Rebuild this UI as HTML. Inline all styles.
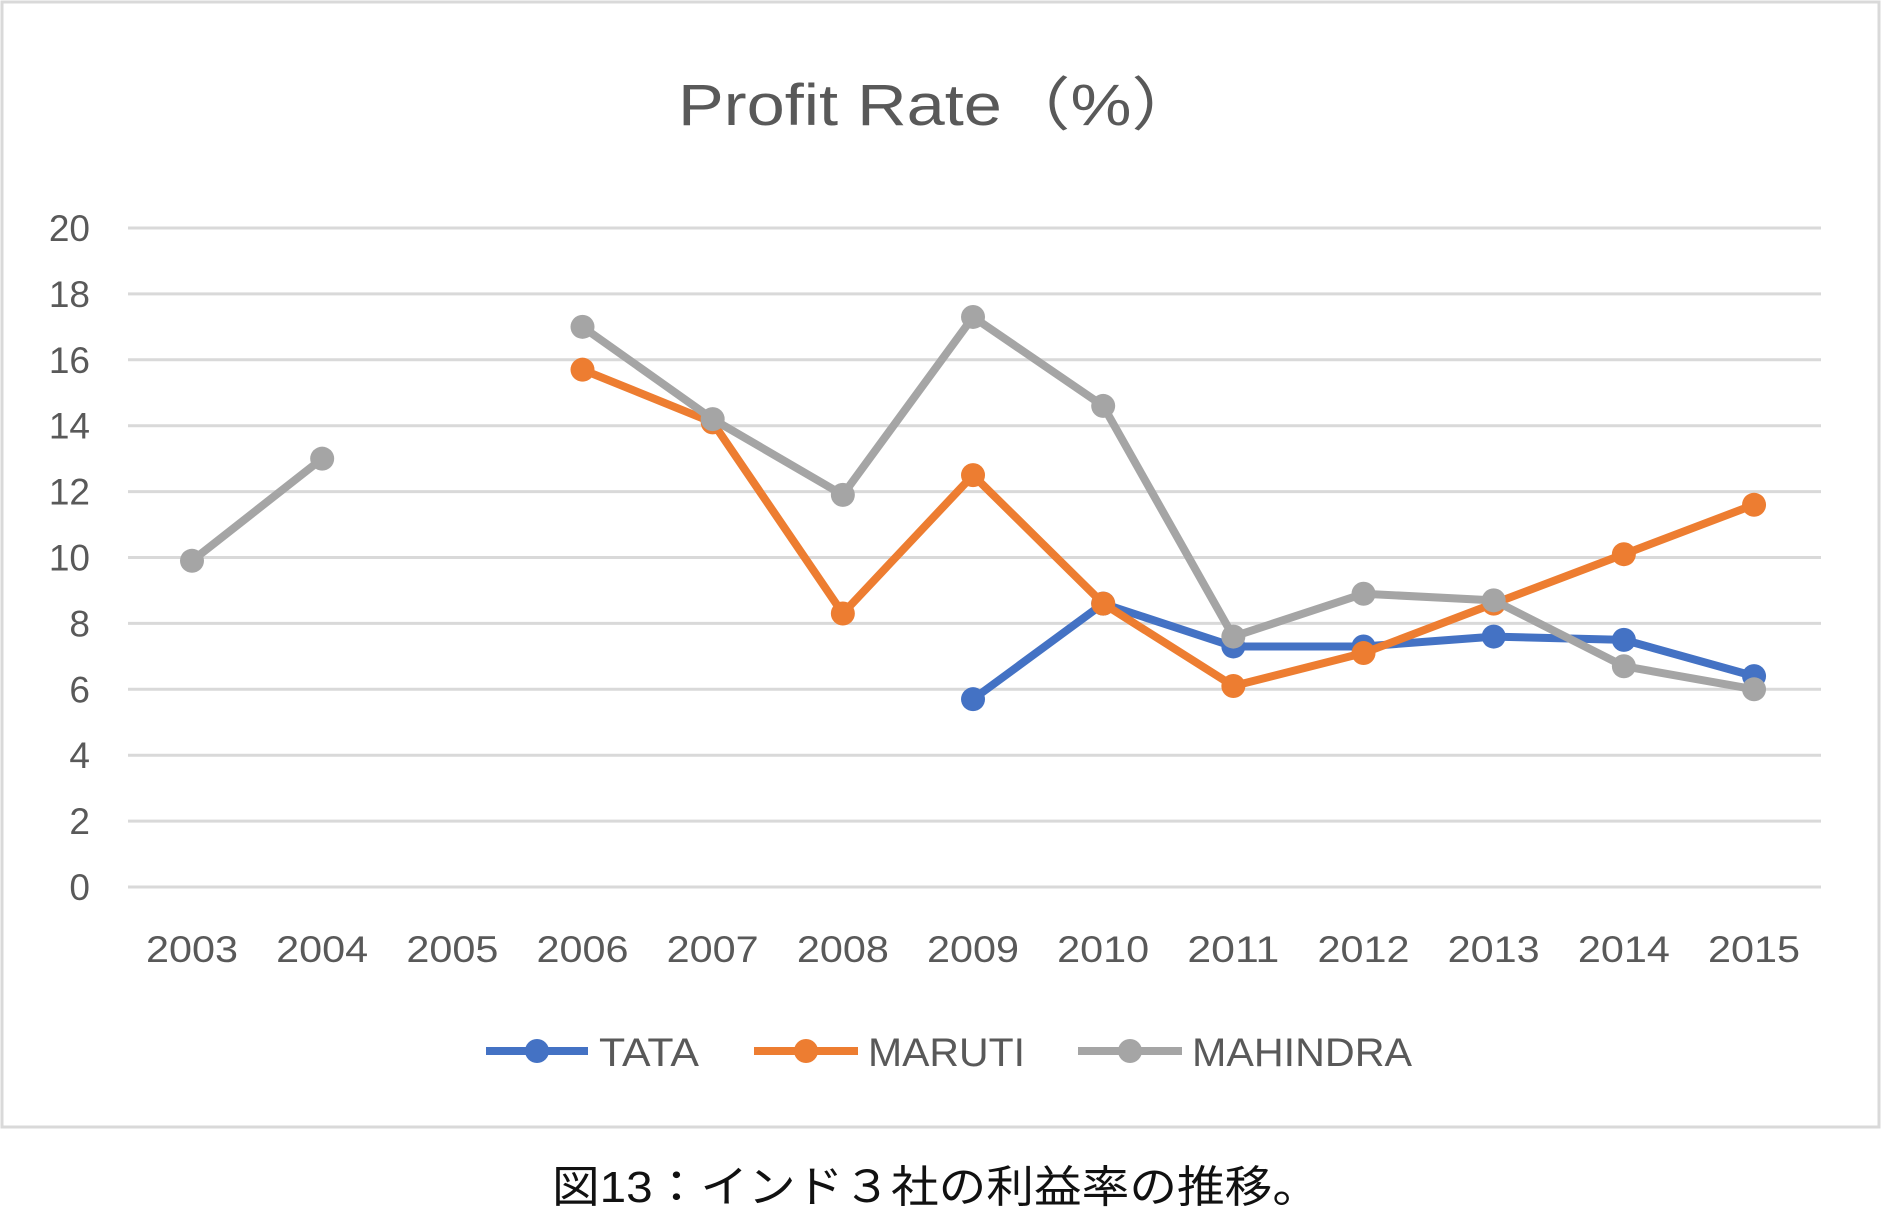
<!DOCTYPE html>
<html><head><meta charset="utf-8"><style>
html,body{margin:0;padding:0;background:#fff;}
svg{display:block;}
</style></head><body>
<svg id="s" width="1882" height="1209" viewBox="0 0 1882 1209" xmlns="http://www.w3.org/2000/svg" font-family="Liberation Sans, DejaVu Sans, sans-serif">
<rect x="2" y="2" width="1877" height="1125" fill="#fff" stroke="#d9d9d9" stroke-width="3"/>
<text x="678" y="125" font-size="58" fill="#595959" textLength="522" lengthAdjust="spacingAndGlyphs">Profit Rate（%）</text>
<g id="grid"></g>
<g id="series"></g>
<g font-size="40" fill="#595959">
<line x1="486" y1="1051" x2="588" y2="1051" stroke="#4472c4" stroke-width="8"/><circle cx="537" cy="1051" r="12" fill="#4472c4"/>
<text x="599" y="1066" textLength="100" lengthAdjust="spacingAndGlyphs">TATA</text>
<line x1="754" y1="1051" x2="858" y2="1051" stroke="#ed7d31" stroke-width="8"/><circle cx="806" cy="1051" r="12" fill="#ed7d31"/>
<text x="868" y="1066" textLength="157" lengthAdjust="spacingAndGlyphs">MARUTI</text>
<line x1="1078" y1="1051" x2="1182" y2="1051" stroke="#a5a5a5" stroke-width="8"/><circle cx="1130" cy="1051" r="12" fill="#a5a5a5"/>
<text x="1192" y="1066" textLength="220" lengthAdjust="spacingAndGlyphs">MAHINDRA</text>
</g>
<text x="552" y="1202" font-size="44" fill="#111" textLength="768" lengthAdjust="spacingAndGlyphs" font-family="Liberation Sans, Noto Sans CJK JP, sans-serif">図13：インド３社の利益率の推移。</text>
</svg>
<script>
var ns="http://www.w3.org/2000/svg";
function el(t,a,p,txt){var e=document.createElementNS(ns,t);for(var k in a)e.setAttribute(k,a[k]);if(txt!==undefined)e.textContent=txt;p.appendChild(e);return e;}
var g=document.getElementById('grid'),S=document.getElementById('series');
function Y(v){return 887-v*32.95;}function X(i){return 192+i*130.17;}
for(var v=0;v<=20;v+=2){el('line',{x1:128,x2:1821,y1:Y(v),y2:Y(v),stroke:'#d9d9d9','stroke-width':3},g);
el('text',{x:90,y:Y(v)+13,'text-anchor':'end','font-size':37,fill:'#595959'},g,v);}
for(var i=0;i<13;i++)el('text',{x:X(i),y:962,'text-anchor':'middle','font-size':37,fill:'#595959',textLength:92,lengthAdjust:'spacingAndGlyphs'},g,2003+i);
var data=[
['#4472c4',[null,null,null,null,null,null,5.7,8.6,7.3,7.3,7.6,7.5,6.4]],
['#ed7d31',[null,null,null,15.7,14.1,8.3,12.5,8.6,6.1,7.1,8.6,10.1,11.6]],
['#a5a5a5',[9.9,13.0,null,17.0,14.2,11.9,17.3,14.6,7.6,8.9,8.7,6.7,6.0]]];
data.forEach(function(d){var c=d[0],a=d[1];
for(var i=0;i<12;i++)if(a[i]!=null&&a[i+1]!=null)el('line',{x1:X(i),y1:Y(a[i]),x2:X(i+1),y2:Y(a[i+1]),stroke:c,'stroke-width':8,'stroke-linecap':'round'},S);
for(var i=0;i<13;i++)if(a[i]!=null)el('circle',{cx:X(i),cy:Y(a[i]),r:12,fill:c},S);});
</script>
</body></html>
